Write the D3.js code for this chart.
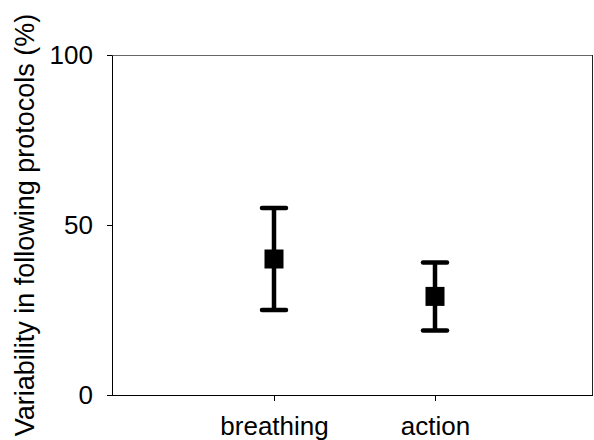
<!DOCTYPE html>
<meta charset="utf-8">
<head>
<style>
  body { margin: 0; background: #fff; }
  text { font-family: "Liberation Sans", Arial, sans-serif; fill: #000; }
</style>
<script src="https://d3js.org/d3.v7.min.js"></script>
</head>
<body>
<script>
// values
var groups = ["breathing", "action"];
var means = [40, 29];
var upper = [55, 39];
var lower = [25, 19];
var yTicks = [0, 50, 100];

var width = 594, height = 440;
var mLeft = 112, mRight = 593, mTop = 55, mBottom = 395;

var svg = d3.select("body").append("svg")
    .attr("width", width)
    .attr("height", height);

var x = d3.scalePoint().domain(groups).range([mLeft + 1, mRight + 3]).padding(1);
var y = d3.scaleLinear().domain([0, 100]).range([mBottom, mTop]);

// frame: top and right
svg.append("line")
    .attr("x1", mLeft).attr("x2", mRight).attr("y1", mTop + 0.5).attr("y2", mTop + 0.5)
    .attr("stroke", "#666").attr("stroke-width", 1);
svg.append("line")
    .attr("x1", mRight - 0.5).attr("x2", mRight - 0.5).attr("y1", mTop).attr("y2", mBottom)
    .attr("stroke", "#222").attr("stroke-width", 1);

// y axis
var yAxis = svg.append("g")
    .attr("transform", "translate(" + mLeft + ",0)")
    .call(d3.axisLeft(y).tickValues(yTicks).tickSize(5).tickSizeOuter(0).tickPadding(14));
yAxis.select(".domain").attr("stroke", "#000");
yAxis.selectAll("text").style("font-size", "26px");

// x axis (extends slightly past the y axis)
var xAxis = svg.append("g")
    .attr("transform", "translate(0," + mBottom + ")")
    .call(d3.axisBottom(x).tickSize(6).tickSizeOuter(0).tickPadding(16));
xAxis.select(".domain").attr("d", "M" + (mLeft - 5) + ",0.5H" + mRight);
xAxis.selectAll("text").style("font-size", "26px");

// y label
svg.append("text")
    .attr("transform", "translate(34,225) rotate(-90)")
    .attr("text-anchor", "middle")
    .style("font-size", "27px")
    .text("Variability in following protocols (%)");

// error bars
var bars = svg.selectAll(".bar")
    .data(groups)
    .enter().append("g")
    .attr("class", "bar");

bars.append("line")
    .attr("x1", function(d) { return x(d); })
    .attr("x2", function(d) { return x(d); })
    .attr("y1", function(d, i) { return y(upper[i]); })
    .attr("y2", function(d, i) { return y(lower[i]); })
    .attr("stroke", "#000").attr("stroke-width", 4.5);

[upper, lower].forEach(function(arr) {
  bars.append("line")
      .attr("x1", function(d) { return x(d) - 12; })
      .attr("x2", function(d) { return x(d) + 12; })
      .attr("y1", function(d, i) { return y(arr[i]); })
      .attr("y2", function(d, i) { return y(arr[i]); })
      .attr("stroke", "#000").attr("stroke-width", 4.5)
      .attr("stroke-linecap", "round");
});

bars.append("rect")
    .attr("x", function(d) { return x(d) - 9.5; })
    .attr("y", function(d, i) { return y(means[i]) - 9.5; })
    .attr("width", 19).attr("height", 19)
    .attr("fill", "#000");
</script>
</body>
